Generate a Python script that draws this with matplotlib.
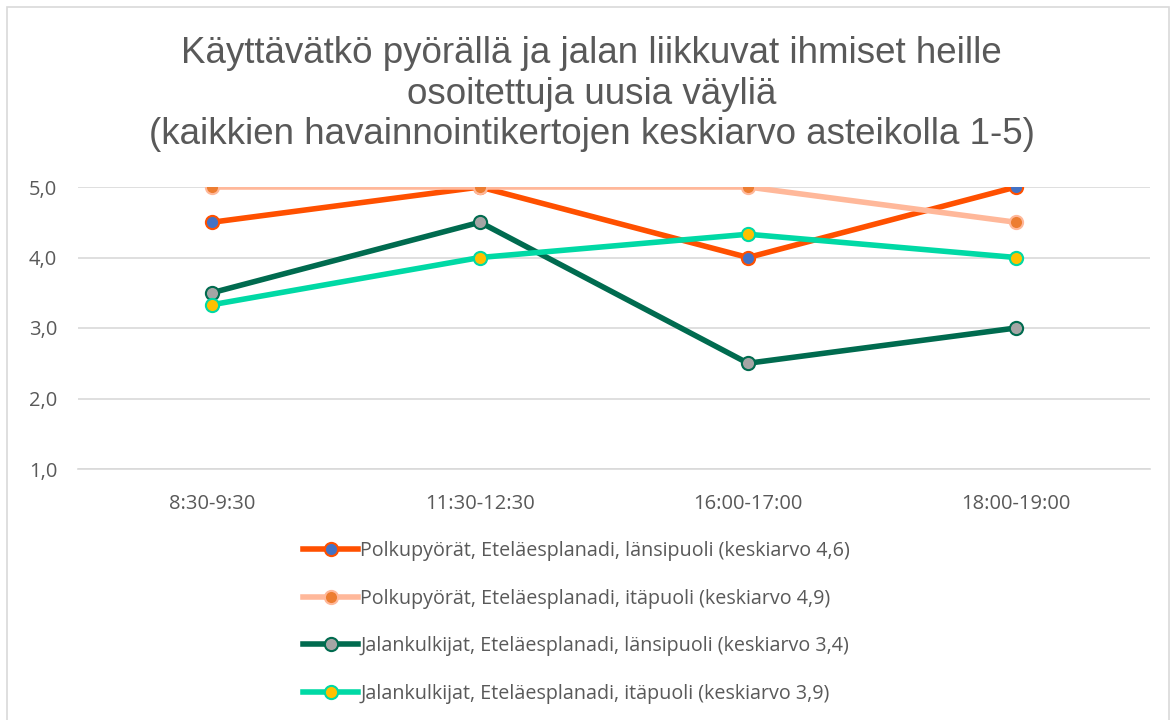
import matplotlib.pyplot as plt
from matplotlib.patches import Rectangle

# data
categories = ['8:30-9:30', '11:30-12:30', '16:00-17:00', '18:00-19:00']
series_names = [
    'Polkupyörät, Eteläesplanadi, länsipuoli (keskiarvo 4,6)',
    'Polkupyörät, Eteläesplanadi, itäpuoli (keskiarvo 4,9)',
    'Jalankulkijat, Eteläesplanadi, länsipuoli (keskiarvo 3,4)',
    'Jalankulkijat, Eteläesplanadi, itäpuoli (keskiarvo 3,9)',
]
bikes_west = [4.5, 5.0, 4.0, 5.0]
bikes_east = [5.0, 5.0, 5.0, 4.5]
walk_west = [3.5, 4.5, 2.5, 3.0]
walk_east = [3.33, 4.0, 4.33, 4.0]
y_ticks = [1.0, 2.0, 3.0, 4.0, 5.0]
y_labels = ['1,0', '2,0', '3,0', '4,0', '5,0']

# tyylit
line_colors = ['#FF5000', '#FFB89A', '#006B4F', '#00D9A5']
face_colors = ['#4472C4', '#ED7D31', '#A5A5A5', '#FFC000']
txt = '#595959'
font = ['Open Sans', 'DejaVu Sans']

fig = plt.figure(figsize=(11.76, 7.2), dpi=100)
ax = fig.add_axes([78 / 1176, 1 - 469 / 720, (1150 - 78) / 1176, (469 - 187) / 720])

x = range(len(categories))
all_series = [bikes_west, bikes_east, walk_west, walk_east]
for vals, name, lc, fc in zip(all_series, series_names, line_colors, face_colors):
    ax.plot(x, vals, color=lc, linewidth=4, marker='o', markersize=9.5,
            markerfacecolor=fc, markeredgecolor=lc, markeredgewidth=1.5,
            label=name, zorder=3)

ax.set_xlim(-0.5, len(categories) - 0.5)
ax.set_ylim(1.0, 5.0)
ax.set_xticks(list(x))
ax.set_xticklabels(categories)
ax.set_yticks(y_ticks)
ax.set_yticklabels(y_labels)
ax.tick_params(length=0, labelsize=14.5, labelcolor=txt)
ax.tick_params(axis='y', pad=15)
ax.tick_params(axis='x', pad=18)
for lab in ax.get_xticklabels() + ax.get_yticklabels():
    lab.set_family(font)
ax.grid(axis='y', color='#D9D9D9', linewidth=1.2)
ax.set_axisbelow(True)
for s in ax.spines.values():
    s.set_visible(False)
ax.spines['bottom'].set_visible(True)
ax.spines['bottom'].set_color('#D9D9D9')
ax.spines['bottom'].set_linewidth(1.2)

fig.text(0.503, 1 - 94 / 720,
         'Käyttävätkö pyörällä ja jalan liikkuvat ihmiset heille\n'
         'osoitettuja uusia väyliä\n'
         '(kaikkien havainnointikertojen keskiarvo asteikolla 1-5)',
         ha='center', va='center', fontsize=26.5, color=txt,
         family=['Liberation Sans', 'DejaVu Sans'], linespacing=1.2)

leg = fig.legend(loc='upper left', bbox_to_anchor=(303 / 1176, 1 - 541 / 720),
                 frameon=False, labelspacing=1.4, borderpad=0, borderaxespad=0,
                 handlelength=2.8, handletextpad=0.1,
                 prop={'family': font, 'size': 14.2})
for t in leg.get_texts():
    t.set_color(txt)

# reunus
fig.patches.append(Rectangle((7 / 1176, -0.01), 1 - 14 / 1176, 1.0, transform=fig.transFigure,
                             fill=False, edgecolor='#D9D9D9', linewidth=1.2))

fig.savefig('out.png', dpi=100)
